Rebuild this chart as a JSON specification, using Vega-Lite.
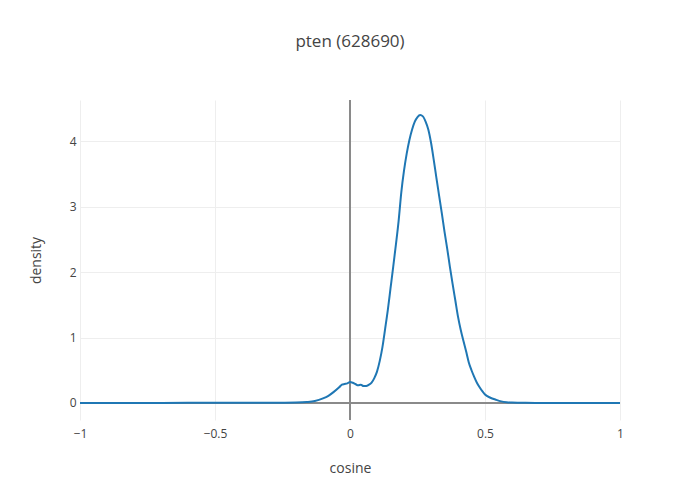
{
  "$schema": "https://vega.github.io/schema/vega-lite/v6.json",
  "width": 540,
  "height": 320,
  "autosize": {"type": "none"},
  "padding": {"left": 80, "top": 100, "right": 80, "bottom": 80},
  "background": "white",
  "title": {
    "text": "pten (628690)",
    "anchor": "middle",
    "frame": "group",
    "font": "Open Sans",
    "fontSize": 17,
    "fontWeight": "normal",
    "color": "#444",
    "baseline": "middle",
    "offset": 40
  },
  "config": {
    "font": "Open Sans",
    "view": {"stroke": null},
    "axis": {
      "domain": false,
      "ticks": false,
      "grid": true,
      "gridColor": "#eee",
      "gridWidth": 1,
      "gridOpacity": 1,
      "labelFont": "Open Sans",
      "labelFontSize": 12,
      "labelColor": "#444",
      "titleFont": "Open Sans",
      "titleFontSize": 14,
      "titleFontWeight": "normal",
      "titleColor": "#444"
    }
  },
  "data": {
    "values": [
      {"cosine": -1, "density": 0},
      {"cosine": -0.8, "density": 0.001},
      {"cosine": -0.6, "density": 0.002},
      {"cosine": -0.4, "density": 0.003},
      {"cosine": -0.3, "density": 0.004},
      {"cosine": -0.2, "density": 0.008},
      {"cosine": -0.16, "density": 0.015},
      {"cosine": -0.13, "density": 0.03},
      {"cosine": -0.1, "density": 0.07},
      {"cosine": -0.08, "density": 0.11},
      {"cosine": -0.06, "density": 0.17},
      {"cosine": -0.04, "density": 0.24},
      {"cosine": -0.03, "density": 0.28},
      {"cosine": -0.02, "density": 0.29},
      {"cosine": -0.01, "density": 0.3},
      {"cosine": 0, "density": 0.32},
      {"cosine": 0.01, "density": 0.31},
      {"cosine": 0.02, "density": 0.29},
      {"cosine": 0.03, "density": 0.27},
      {"cosine": 0.04, "density": 0.28},
      {"cosine": 0.05, "density": 0.26},
      {"cosine": 0.06, "density": 0.26},
      {"cosine": 0.07, "density": 0.28},
      {"cosine": 0.08, "density": 0.31},
      {"cosine": 0.09, "density": 0.38},
      {"cosine": 0.1, "density": 0.48},
      {"cosine": 0.11, "density": 0.64},
      {"cosine": 0.12, "density": 0.85},
      {"cosine": 0.13, "density": 1.13},
      {"cosine": 0.14, "density": 1.42},
      {"cosine": 0.15, "density": 1.75},
      {"cosine": 0.16, "density": 2.08},
      {"cosine": 0.17, "density": 2.42},
      {"cosine": 0.18, "density": 2.78},
      {"cosine": 0.19, "density": 3.22},
      {"cosine": 0.2, "density": 3.55},
      {"cosine": 0.21, "density": 3.81},
      {"cosine": 0.22, "density": 4.02},
      {"cosine": 0.23, "density": 4.18},
      {"cosine": 0.24, "density": 4.3},
      {"cosine": 0.25, "density": 4.37},
      {"cosine": 0.26, "density": 4.4},
      {"cosine": 0.27, "density": 4.38},
      {"cosine": 0.28, "density": 4.3},
      {"cosine": 0.29, "density": 4.18},
      {"cosine": 0.3, "density": 3.98},
      {"cosine": 0.31, "density": 3.72},
      {"cosine": 0.32, "density": 3.44},
      {"cosine": 0.33, "density": 3.17},
      {"cosine": 0.34, "density": 2.9},
      {"cosine": 0.35, "density": 2.62},
      {"cosine": 0.36, "density": 2.36},
      {"cosine": 0.37, "density": 2.08},
      {"cosine": 0.38, "density": 1.82},
      {"cosine": 0.39, "density": 1.57},
      {"cosine": 0.4, "density": 1.32},
      {"cosine": 0.41, "density": 1.12},
      {"cosine": 0.42, "density": 0.95},
      {"cosine": 0.43, "density": 0.79},
      {"cosine": 0.44, "density": 0.62},
      {"cosine": 0.45, "density": 0.5},
      {"cosine": 0.46, "density": 0.4},
      {"cosine": 0.47, "density": 0.31},
      {"cosine": 0.48, "density": 0.24},
      {"cosine": 0.49, "density": 0.18},
      {"cosine": 0.5, "density": 0.13},
      {"cosine": 0.52, "density": 0.08},
      {"cosine": 0.54, "density": 0.05},
      {"cosine": 0.56, "density": 0.025},
      {"cosine": 0.58, "density": 0.012},
      {"cosine": 0.6, "density": 0.006},
      {"cosine": 0.65, "density": 0.002},
      {"cosine": 0.7, "density": 0.001},
      {"cosine": 0.8, "density": 0},
      {"cosine": 1, "density": 0}
    ]
  },
  "encoding": {
    "x": {
      "field": "cosine",
      "type": "quantitative",
      "scale": {"domain": [-1, 1], "nice": false, "zero": false},
      "axis": {"values": [-1, -0.5, 0, 0.5, 1], "format": "~g", "labelPadding": 8, "titlePadding": 22, "title": "cosine", "labelFlush": false, "grid": true}
    },
    "y": {
      "field": "density",
      "type": "quantitative",
      "scale": {"domain": [-0.26, 4.63], "nice": false, "zero": false},
      "axis": {"values": [0, 1, 2, 3, 4], "format": "d", "labelPadding": 4, "titlePadding": 26, "title": "density", "grid": true}
    }
  },
  "layer": [
    {
      "mark": {"type": "rule", "color": "#8a8a8a", "strokeWidth": 1.5},
      "encoding": {"x": {"datum": 0, "type": "quantitative"}, "y": null}
    },
    {
      "mark": {"type": "rule", "color": "#8a8a8a", "strokeWidth": 1.5},
      "encoding": {"y": {"datum": 0, "type": "quantitative"}, "x": null}
    },
    {
      "mark": {"type": "line", "color": "#1f77b4", "strokeWidth": 2, "interpolate": "monotone"}
    }
  ]
}
